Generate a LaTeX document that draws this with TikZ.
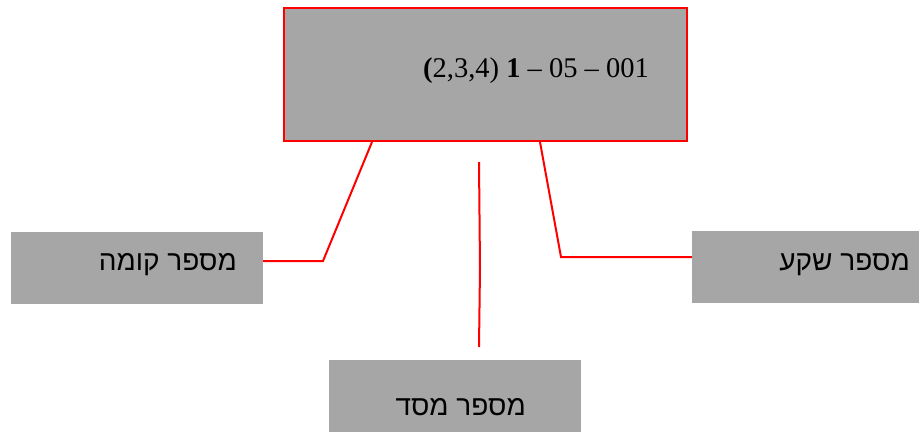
\documentclass[tikz,border=0pt]{standalone}
\usepackage{fontspec}
\setmainfont{Liberation Serif}
\newfontfamily\hebfont[Script=Hebrew]{Liberation Sans}
\TeXXeTstate=1
\usetikzlibrary{calc}
\definecolor{boxgray}{RGB}{166,166,166}
\definecolor{linkred}{RGB}{255,0,0}
\tikzset{
  box/.style={fill=boxgray, minimum width=252pt, minimum height=72pt, inner sep=0pt},
  heblabel/.style={anchor=base east, inner sep=0pt, font=\hebfont\fontsize{28}{32}\selectfont},
  link/.style={linkred, line width=2pt}
}

\begin{document}
\begin{tikzpicture}[x=1pt,y=-1pt]
\useasboundingbox (0,0) rectangle (919,434);
% main code box
\node [box, draw=linkred, line width=2pt, minimum width=403pt, minimum height=133pt] (code) at (485.5,74.5) {};
\node [anchor=base east, inner sep=0pt, font=\fontsize{28.5}{32}\selectfont] (codetext) at (649,77) {\textbf{(}2,3,4) \textbf{1} -- 05 -- 001};
% the three parts
\node [box] (floor) at (137,268) {};
\node [heblabel] (floortext) at (237,270) {\beginR מספר קומה\endR};
\node [box, minimum width=227pt] (unit) at (805.5,267) {};
\node [heblabel] (unittext) at (910,270) {\beginR מספר שקע\endR};
\node [box] (wing) at (455,396) {};
\node [heblabel] (wingtext) at (526,415) {\beginR מספר מסד\endR};
% connectors
\coordinate (floorknee) at (323,261);
\coordinate (unitknee) at (561,257);
\coordinate (wingtop) at (479,162);
\coordinate (wingbot) at (479,347);
\draw [link] ([xshift=89pt]code.south west) -- (floorknee) -- ([yshift=7pt]floor.east);
\draw [link] ([xshift=-148pt]code.south east) -- (unitknee) -- ([yshift=10pt]unit.west);
\draw [link] (wingtop) -- (480,268) -- (wingbot);
\end{tikzpicture}
\end{document}
